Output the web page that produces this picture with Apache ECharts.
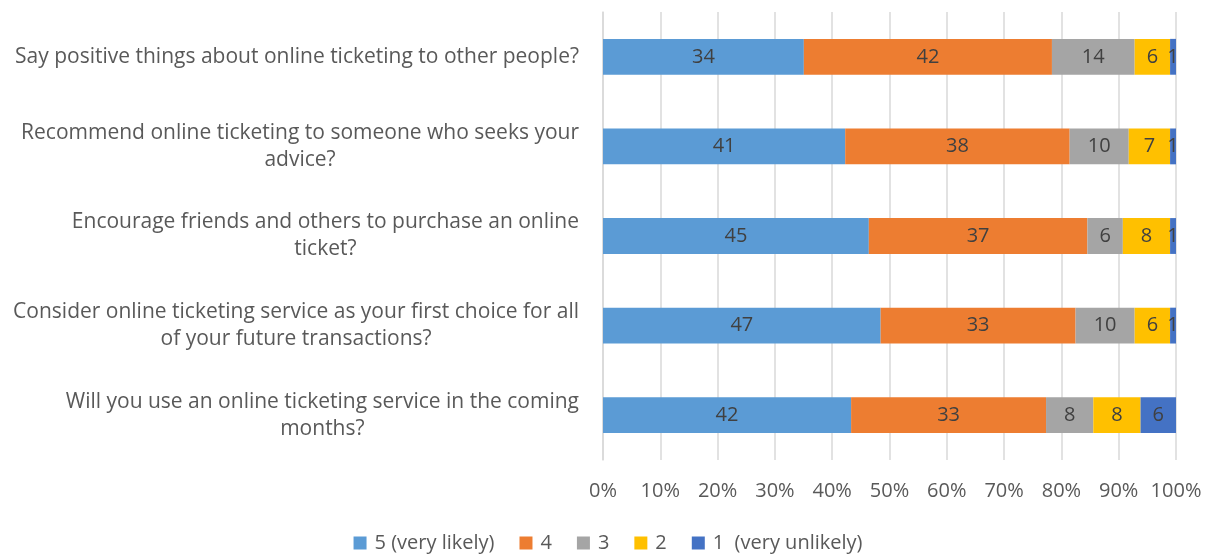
<!DOCTYPE html>
<html>
<head>
<meta charset="utf-8">
<script src="https://cdn.jsdelivr.net/npm/echarts@6/dist/echarts.min.js"></script>
<style>
html,body{margin:0;padding:0;background:#fff;}
#chart{width:1216px;height:558px;}
</style>
</head>
<body>
<div id="chart"></div>
<script>
const categories = [
  "Will you use an online ticketing service in the coming\nmonths?",
  "Consider online ticketing service as your first choice for all\nof your future transactions?",
  "Encourage friends and others to purchase an online\nticket?",
  "Recommend online ticketing to someone who seeks your\nadvice?",
  "Say positive things about online ticketing to other people?"
];
const seriesNames = ["5 (very likely)", "4", "3", "2", "1  (very unlikely)"];
const s5 = [42, 47, 45, 41, 34];
const s4 = [33, 33, 37, 38, 42];
const s3 = [8, 10, 6, 10, 14];
const s2 = [8, 6, 8, 7, 6];
const s1 = [6, 1, 1, 1, 1];
const xTicks = [0, 10, 20, 30, 40, 50, 60, 70, 80, 90, 100];
const colors = ["#5B9BD5", "#ED7D31", "#A5A5A5", "#FFC000", "#4472C4"];

const allSeries = [s5, s4, s3, s2, s1];
const totals = categories.map((_, i) => allSeries.reduce((a, s) => a + s[i], 0));
const FONT = "Open Sans";

const chart = echarts.init(document.getElementById('chart'));
chart.setOption({
  animation: false,
  textStyle: { fontFamily: FONT },
  grid: { left: 603, right: 40, top: 12, bottom: 98, containLabel: false },
  legend: {
    bottom: 0,
    left: 'center',
    itemWidth: 13,
    itemHeight: 13,
    itemGap: 25,
    icon: 'rect',
    textStyle: { fontSize: 20, color: '#595959', fontFamily: FONT, padding: [0, 0, 0, 3] },
    data: seriesNames
  },
  xAxis: {
    type: 'value',
    min: 0, max: 100, interval: 10,
    axisLabel: { fontSize: 20, color: '#595959', margin: 21, formatter: v => v + '%' },
    splitLine: { show: true, lineStyle: { color: '#D9D9D9', width: 1.5 } },
    axisLine: { show: false },
    axisTick: { show: false }
  },
  yAxis: {
    type: 'category',
    data: categories,
    axisLine: { show: true, lineStyle: { color: '#D9D9D9', width: 1.5 } },
    axisTick: { show: false },
    axisLabel: {
      margin: 24,
      fontSize: 21,
      color: '#595959',
      lineHeight: 27,
      formatter: v => v.split('\n').map(l => '{c|' + l + '}').join('\n'),
      rich: { c: { align: 'center', fontSize: 21, color: '#595959', lineHeight: 27, fontFamily: FONT } }
    }
  },
  series: allSeries.map((arr, k) => ({
    name: seriesNames[k],
    type: 'bar',
    stack: 'total',
    barWidth: '40%',
    itemStyle: { color: colors[k] },
    label: {
      show: true,
      position: 'inside',
      fontSize: 20,
      color: '#404040',
      fontFamily: FONT,
      formatter: p => arr[p.dataIndex]
    },
    data: arr.map((v, i) => v / totals[i] * 100)
  }))
});
</script>
</body>
</html>
